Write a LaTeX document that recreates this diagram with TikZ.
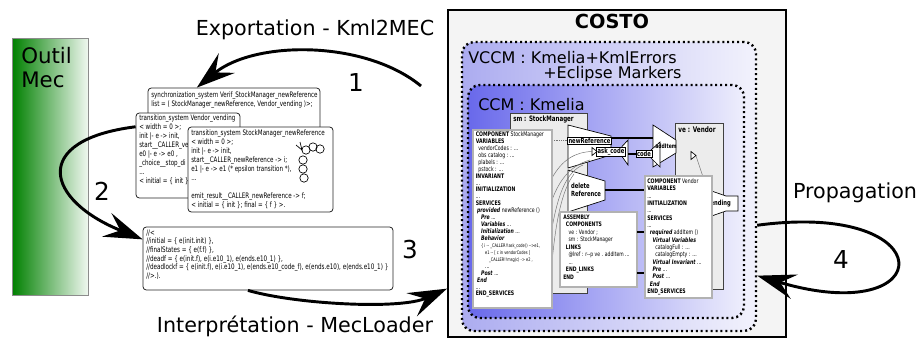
\documentclass[tikz,border=0pt]{standalone}
\usepackage{fontspec}
\setmainfont{DejaVu Sans}
\newfontfamily\codefont[FakeStretch=0.74]{DejaVu Sans}
\usetikzlibrary{arrows.meta,fit,calc}
\definecolor{mecgreen}{RGB}{0,128,0}
\definecolor{vccmL}{RGB}{172,172,240}
\definecolor{vccmR}{RGB}{242,242,252}
\definecolor{ccmL}{RGB}{105,105,235}
\definecolor{ccmR}{RGB}{238,238,252}
\definecolor{costofill}{RGB}{244,244,244}
\definecolor{compfill}{RGB}{236,236,236}
\tikzset{
  bigtxt/.style={font=\fontsize{15.5}{18}\selectfont, inner sep=0},
  numtxt/.style={font=\fontsize{18.5}{22}\selectfont, inner sep=0},
  bigarrow/.style={line width=2.2pt, -{Stealth[length=29pt,width=19pt,inset=11pt]}},
  docbox/.style={draw=black!85, fill=white, rounded corners=2.5pt, line width=0.6pt, inner sep=0},
  doctext/.style={font={\codefont\fontsize{5.65}{6.75}\selectfont}, align=left, inner sep=0, anchor=north west},
  codebox/.style={draw=black!30, fill=white, line width=1.1pt, inner sep=0},
  kmtext/.style={align=left, inner sep=0, anchor=north west},
  compbox/.style={draw=black!75, fill=compfill, line width=0.6pt, inner sep=0},
  svcshape/.style={draw=black, fill=white, line width=0.5pt},
  svclabel/.style={font={\codefont\bfseries\fontsize{5.3}{6}\selectfont}, inner sep=0.7pt},
  kmlink/.style={line width=0.9pt, draw=black},
  glink/.style={draw=black!55, line width=0.35pt},
  dotbox/.style={rounded corners=9pt, line width=1.8pt, dash pattern=on 1.5pt off 2.2pt, inner sep=0},
}
\begin{document}
\begin{tikzpicture}[x=0.75pt,y=-0.75pt]
\useasboundingbox (0,0) rectangle (921,339);
% ---------- Outil Mec
\node[fit={(12,38) (88,295)}, inner sep=0, draw=black!45, line width=0.5pt, left color=mecgreen, right color=mecgreen!6] (mec) {};
\node[font=\fontsize{16}{18}\selectfont, inner sep=0, align=left, anchor=north west] (mect) at (21,47) {Outil\\Mec};
% ---------- COSTO
\node[fit={(448,10) (786,337)}, inner sep=0, draw=black, line width=1.5pt, fill=costofill] (costo) {};
\node[font=\bfseries\fontsize{14.5}{16}\selectfont, inner sep=0, anchor=base] (costot) at (612,28) {COSTO};
\node[fit={(462,42) (756,331)}, dotbox, draw=black, left color=vccmL, right color=vccmR] (vccm) {};
\node[font=\fontsize{12}{14}\selectfont, inner sep=0, anchor=base west] (vccmt) at (468,63) {VCCM : Kmelia+KmlErrors};
\node[font=\fontsize{12}{14}\selectfont, inner sep=0, anchor=base west] (vccmt2) at (543,78) {+Eclipse Markers};
\node[fit={(468,85) (744,318)}, dotbox, draw=black, left color=ccmL, right color=ccmR] (ccm) {};
\node[font=\fontsize{12}{14}\selectfont, inner sep=0, anchor=base west] (ccmt) at (478,110) {CCM : Kmelia};
% ---------- components
\node[fit={(510,113) (587,293)}, compbox] (sm) {};
\node[font={\codefont\bfseries\fontsize{5.6}{6}\selectfont}, inner sep=0, anchor=base west] (smh) at (513,121) {sm : StockManager};
\node[fit={(675,123) (723,289)}, compbox] (ve) {};
\node[font={\codefont\bfseries\fontsize{5.8}{6}\selectfont}, inner sep=0, anchor=base west] (veh) at (678,132) {ve : Vendor};
% ---------- services
\draw[svcshape] (568,125) -- (611,136) -- (611,155) -- (568,168) -- cycle;
\node[svclabel, draw, fill=white] (newref) at (589.5,140.5) {newReference};
\draw[svcshape] (568,170) -- (605,181) -- (605,200) -- (568,212) -- cycle;
\node[svclabel, align=left] (delref) at (586,190) {delete\\Reference};
\draw[svcshape] (622,146.5) -- (628,140) -- (628,165) -- (622,156.5) -- cycle;
\node[svclabel, draw, fill=white] (askc) at (611,151.5) {ask\_code};
\draw[fill=white, line width=0.5pt] (592,147.5) -- (597,151.5) -- (592,155.5) -- cycle;
\draw[svcshape] (653,125) -- (676,140) -- (676,153) -- (653,167) -- cycle;
\draw[svcshape] (651,150) -- (660,142) -- (660,167) -- (651,158) -- cycle;
\node[svclabel, draw, fill=white] (codel) at (644,154) {code};
\node[svclabel, font={\codefont\bfseries\fontsize{4.6}{5}\selectfont}] (additem) at (666,146.5) {addItem};
\draw[svcshape] (700,187) -- (726,196) -- (738,196) -- (738,211) -- (726,211) -- (700,220) -- cycle;
\node[svclabel] (vend) at (719,203.5) {vending};
\draw[fill=white, line width=0.5pt] (691,151.5) -- (696,155.5) -- (691,159.5) -- cycle;
% links between services
\coordinate (nrR) at (611,138);
\coordinate (aiL) at (653,138);
\draw[kmlink] (nrR) -- (aiL);
\coordinate (akR) at (628,154);
\draw[kmlink] (akR) -- (codel.west);
\coordinate (drR) at (605,190);
\draw[kmlink] (drR) -- (drR -| vend.west);
% thin links from code to services
\draw[glink, densely dotted] (552,140) -- (568,140);
\draw[glink] (552,178) .. controls (562,160) and (575,152) .. (592,151.5);
\draw[glink] (552,200) .. controls (560,178) and (572,165) .. (590,160);
\draw[glink] (552,228) .. controls (558,195) and (566,172) .. (583,165);
\draw[glink] (552,262) .. controls (556,220) and (562,190) .. (574,174);
\draw[glink] (696,156) -- (703,177);
% ---------- code boxes
\node[fit={(473,130) (552,308)}, codebox] (smcode) {};
\node[kmtext, font={\codefont\fontsize{4.7}{5.2}\selectfont}] (smcodet) at (475.5,131.5) {%
\textbf{COMPONENT} StockManager\\
\textbf{VARIABLES}\\
\hspace*{2pt}vendorCodes : ...\\
\hspace*{2pt}obs catalog : ...\\
\hspace*{2pt}plabels : ...\\
\hspace*{2pt}pstock : ...\\
\textbf{INVARIANT}\\
...\\
\textbf{INITIALIZATION}\\
...\\
\textbf{SERVICES}\\
\hspace*{1pt}\textbf{\textit{provided}} newReference ()\\
\hspace*{4pt}\textbf{\textit{Pre}} ...\\
\hspace*{4pt}\textbf{\textit{Variables}} ...\\
\hspace*{4pt}\textbf{\textit{Initialization}} ...\\
\hspace*{4pt}\textbf{\textit{Behavior}}\\
\hspace*{4pt}{\fontsize{3.6}{5.2}\selectfont \{ i -- \_CALLER!!ask\_code() -->e1,}\\
\hspace*{7pt}{\fontsize{3.6}{5.2}\selectfont e1 -- [ c in vendorCodes ]}\\
\hspace*{10pt}{\fontsize{3.6}{5.2}\selectfont \_CALLER!!msg(c) -> e2 ,}\\
\hspace*{7pt}...\\
\hspace*{4pt}\textbf{\textit{Post}} ...\\
\hspace*{1pt}\textbf{\textit{End}}\\
...\\
\textbf{END\_SERVICES}};
\node[fit={(560,212) (637,287)}, codebox] (asm) {};
\node[kmtext, font={\codefont\fontsize{4.6}{5.6}\selectfont}] (asmt) at (563,214.5) {%
\textbf{ASSEMBLY}\\
\hspace*{2pt}\textbf{COMPONENTS}\\
\hspace*{4pt}ve : Vendor ;\\
\hspace*{4pt}sm : StockManager\\
\hspace*{2pt}\textbf{LINKS}\\
\hspace*{4pt}@lref : r--p ve . addItem ...\\
\hspace*{4pt}...\\
\hspace*{2pt}\textbf{END\_LINKS}\\
\textbf{END}};
\node[fit={(645,176) (712,298)}, codebox] (vcode) {};
\node[kmtext, font={\codefont\fontsize{4.7}{5.5}\selectfont}] (vcodet) at (647,178.5) {%
\textbf{COMPONENT} Vendor\\
\textbf{VARIABLES}\\
...\\
\textbf{INITIALIZATION}\\
...\\
\textbf{SERVICES}\\
...\\
\hspace*{2pt}\textbf{\textit{required}} addItem ()\\
\hspace*{4pt}\textbf{\textit{Virtual Variables}}\\
\hspace*{6pt}catalogFull : ...\\
\hspace*{6pt}catalogEmpty : ...\\
\hspace*{4pt}\textbf{\textit{Virtual Invariant}} ...\\
\hspace*{4pt}\textbf{\textit{Pre}} ...\\
\hspace*{4pt}\textbf{\textit{Post}} ...\\
\hspace*{2pt}\textbf{\textit{End}}\\
\textbf{END\_SERVICES}};
\coordinate (asL1) at (637,232);
\coordinate (asL2) at (637,273);
\draw[kmlink] (asL1) -- (asL1 -| vcode.west);
\draw[kmlink] (asL2) -- (asL2 -| vcode.west);
% ---------- MEC documents
\node[fit={(148,88) (320,140)}, docbox] (d1) {};
\node[doctext] (d1t) at (151,92) {synchronization\_system Verif\_StockManager\_newReference\\list = ( StockManager\_newReference, Vendor\_vending )>;};
\node[fit={(136,113) (240,198)}, docbox] (d2) {};
\node[doctext] (d2t) at (139,114.5) {transition\_system Vendor\_vending\\
< width = 0 >;\\
init |- e -> init,\\
start\_\_CALLER\_ve\\
e0 |- e -> e0 ,\\
\_choice\_\_stop\_di\\
...\\
< initial = \{ init \}};
\node[fit={(188,127) (333,212)}, docbox] (d3) {};
\node[doctext] (d3t) at (191,129.5) {transition\_system StockManager\_newReference\\
< width = 0 >;\\
init |- e -> init,\\
start\_\_CALLER\_newReference -> i;\\
e1 |- e -> e1 (* epsilon transition *),\\
...\\
\mbox{}\\
emit\_result\_\_CALLER\_newReference -> f;\\
< initial = \{ init \}; final = \{ f \} >.};
\foreach \cx/\cy in {306/150, 313/147, 320/149, 303/160, 303/169, 304/178}
  \draw[line width=0.5pt] (\cx,\cy) circle[radius=4.2];
\draw[line width=0.5pt] (296,145) -- (302,150) -- (300,142);
\node[fit={(143,227) (393,290)}, docbox] (d4) {};
\node[doctext, font={\codefont\fontsize{5.7}{6.5}\selectfont}] (d4t) at (146,229.5) {//<\\
//initial = \{ e(init.init) \},\\
//finalStates = \{ e(f.f) \},\\
//deadf = \{ e(init.f), e(i.e10\_1), e(ends.e10\_1) \},\\
//deadlockf = \{ e(init.f), e(i.e10\_1), e(ends.e10\_code\_f), e(ends.e10), e(ends.e10\_1) \}\\
//>.).};
% ---------- big arrows
\coordinate (a1s) at (421,86);
\draw[bigarrow] (a1s) .. controls (365,40) and (255,40) .. ($(d1.north west)!0.285!(d1.north east)$);
\draw[bigarrow] ($(d2.north west)!0.165!(d2.south west)$) .. controls (30,140) and (45,200) .. ($(d4.north west)!0.2!(d4.south west)$);
\draw[bigarrow] ($(d4.south west)!0.42!(d4.south east)$) .. controls (295,304) and (400,310) .. ($(costo.north west)!0.85!(costo.south west)$);
\draw[bigarrow] ($(vccm.north east)!0.633!(vccm.south east)$) .. controls (945,200) and (940,330) .. ($(vccm.north east)!0.806!(vccm.south east)$);
% ---------- labels
\node[bigtxt, anchor=base] (lexp) at (315,36) {Exportation - Kml2MEC};
\node[bigtxt, anchor=base] (linterp) at (295,332) {Interprétation - MecLoader};
\node[bigtxt, anchor=base] (lprop) at (855,198) {Propagation};
\node[numtxt, anchor=base] (n1) at (356,91) {1};
\node[numtxt, anchor=base] (n2) at (102,200) {2};
\node[numtxt, anchor=base] (n3) at (410,258) {3};
\node[numtxt, anchor=base] (n4) at (841,268) {4};
\end{tikzpicture}
\end{document}
